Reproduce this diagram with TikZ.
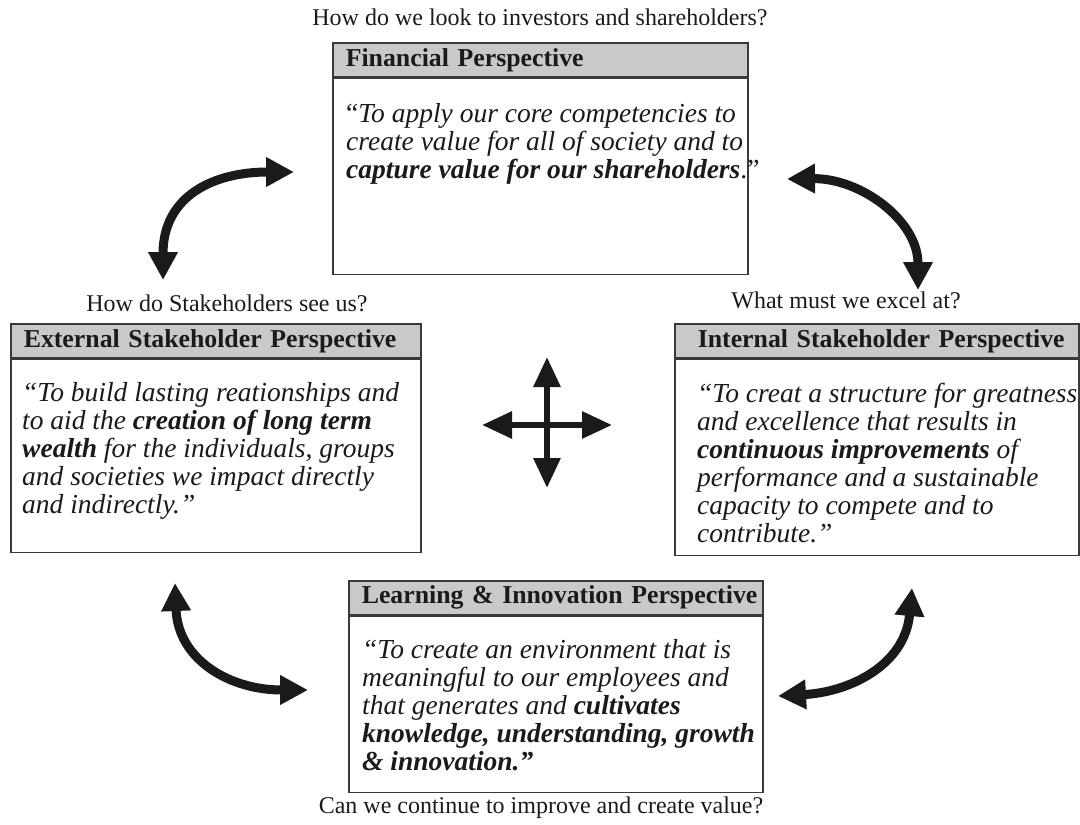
\documentclass[tikz,border=0pt]{standalone}
\usepackage{fontspec}
\setmainfont{Liberation Serif}
\usetikzlibrary{positioning,arrows.meta}
\definecolor{hdrgray}{HTML}{C9C9C9}
\definecolor{edgegray}{HTML}{3A3A3A}
\definecolor{inkblack}{HTML}{1A1A1A}
\tikzset{hdr/.style={draw=edgegray,line width=1.6pt,fill=hdrgray,anchor=north west,
    minimum height=34pt,inner xsep=13pt,inner ysep=0pt,align=left,
    font=\fontsize{25.8}{28}\selectfont\bfseries,text=inkblack},
    body/.style={draw=edgegray,line width=1.6pt,inner sep=0pt},
    quote/.style={anchor=north west,inner sep=0pt,align=left,text=inkblack,
    font=\fontsize{27.5}{28}\selectfont\itshape},
    ask/.style={font=\fontsize{24}{26}\selectfont,inner sep=0pt,text=inkblack},
    swing/.style={draw=inkblack,line width=9pt,
    {Triangle[length=28pt,width=28pt]}-{Triangle[length=28pt,width=28pt]}},
    cross/.style={draw=inkblack,line width=6pt,
    {Triangle[length=30pt,width=26pt]}-{Triangle[length=30pt,width=26pt]}}}
\begin{document}
\begin{tikzpicture}[x=1pt,y=-1pt]
\useasboundingbox (0,0) rectangle (1080,825);
% financial
\node[hdr,text width=389pt] (finH) at (332,42) {\mbox{Financial Perspective}};
\node[body,minimum width=415pt,minimum height=196pt,below=0pt of finH] (finB) {};
\node[quote,below right=26pt and 14pt of finH.south west] (finT)
{{\upshape “}To apply our core competencies to\\
create value for all of society and to\\
\textbf{capture value for our shareholders}{\upshape .”}};
\node[ask] (finQ) at (540,17) {How do we look to investors and shareholders?};
% external
\node[hdr,text width=384pt] (extH) at (10,323) {\mbox{External Stakeholder Perspective}};
\node[body,minimum width=410pt,minimum height=193pt,below=0pt of extH] (extB) {};
\node[quote,below right=24pt and 12pt of extH.south west] (extT)
{“To build lasting reationships and\\
to aid the \textbf{creation of long term}\\
\textbf{wealth} for the individuals, groups\\
and societies we impact directly\\
and indirectly.”};
\node[ask] (extQ) at (227,303) {How do Stakeholders see us?};
% internal
\node[hdr,text width=378pt] (intH) at (674,323) {\hspace*{10pt}\mbox{Internal Stakeholder Perspective}};
\node[body,minimum width=404pt,minimum height=196pt,below=0pt of intH] (intB) {};
\node[quote,below right=24pt and 23pt of intH.south west] (intT)
{“To creat a structure for greatness\\
and excellence that results in\\
\textbf{continuous improvements} of\\
performance and a sustainable\\
capacity to compete and to\\
contribute.”};
\node[ask] (intQ) at (846,300) {What must we excel at?};
% learning
\node[hdr,text width=388pt] (lrnH) at (348,580) {\mbox{Learning \& Innovation Perspective}};
\node[body,minimum width=414pt,minimum height=176pt,below=0pt of lrnH] (lrnB) {};
\node[quote,below right=24pt and 14pt of lrnH.south west] (lrnT)
{“To create an environment that is\\
meaningful to our employees and\\
that generates and \textbf{cultivates}\\
\textbf{knowledge, understanding, growth}\\
\textbf{\& innovation.”}};
\node[ask] (lrnQ) at (541,808) {Can we continue to improve and create value?};
% curved arrows
\coordinate (extN) at (163,280);
\coordinate (finW) at (294,172);
\coordinate (finE) at (787,179);
\coordinate (intN) at (918,290);
\coordinate (extS) at (175,583);
\coordinate (lrnW) at (308,690);
\coordinate (intS) at (912,588);
\coordinate (lrnE) at (778,696);
\draw[swing] (extN) .. controls (163,195) and (215,172) .. (finW);
\draw[swing] (intN) .. controls (918,220) and (860,178) .. (finE);
\draw[swing] (extS) .. controls (178,660) and (230,690) .. (lrnW);
\draw[swing] (intS) .. controls (905,665) and (850,692) .. (lrnE);
% cross
\coordinate (crN) at (547,357);
\coordinate (crS) at (547,488);
\coordinate (crW) at (482,425);
\coordinate (crE) at (612,425);
\draw[cross] (crW) -- (crE);
\draw[cross] (crN) -- (crS);
\end{tikzpicture}
\end{document}
